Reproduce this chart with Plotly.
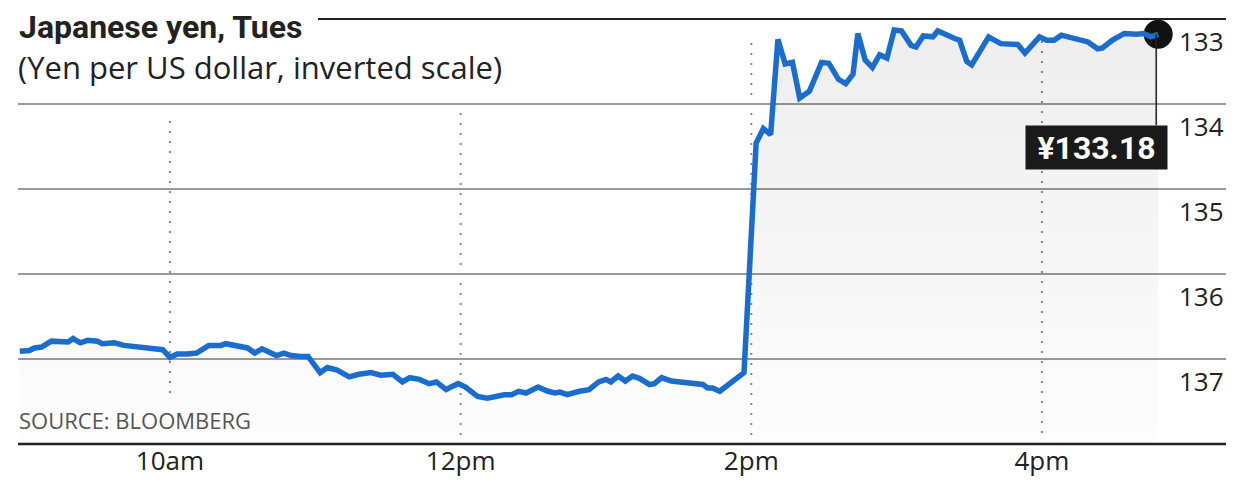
import plotly.graph_objects as go

DAY = "2024-01-02"

times = [
    "08:58", "09:02", "09:04", "09:07", "09:11", "09:15", "09:18", "09:20", "09:23", "09:26",
    "09:30", "09:32", "09:37", "09:41", "09:45", "09:48", "09:54", "09:57", "10:00", "10:03",
    "10:07", "10:11", "10:16", "10:21", "10:23", "10:27", "10:30",
    "10:32", "10:35", "10:38", "10:41", "10:44", "10:47", "10:50", "10:54", "10:57", "11:02",
    "11:05", "11:09", "11:14", "11:18", "11:23", "11:27", "11:29", "11:32", "11:36", "11:39",
    "11:43", "11:47", "11:50", "11:54", "11:56", "11:59", "12:02", "12:07", "12:11",
    "12:14", "12:18", "12:21", "12:24", "12:27", "12:32", "12:36", "12:39", "12:41", "12:44",
    "12:49", "12:53", "12:57", "13:00", "13:02", "13:05", "13:08", "13:11", "13:14", "13:18",
    "13:20", "13:23", "13:27", "13:31", "13:34", "13:37", "13:40", "13:42", "13:44", "13:47",
    "13:50", "13:57",
    "14:02", "14:05", "14:08", "14:11", "14:14", "14:17", "14:20", "14:24", "14:29", "14:32",
    "14:36", "14:39", "14:42", "14:44", "14:47", "14:50", "14:53", "14:56", "14:59", "15:02",
    "15:06", "15:08", "15:11", "15:15", "15:17", "15:21", "15:24", "15:26", "15:29", "15:31",
    "15:38", "15:43", "15:50", "15:53", "15:59", "16:02", "16:05", "16:08", "16:14", "16:17",
    "16:19", "16:23", "16:25", "16:29", "16:34", "16:39", "16:42", "16:45", "16:48",
]

yen_per_usd = [
    136.91, 136.90, 136.87, 136.86, 136.79, 136.79, 136.80, 136.76, 136.81, 136.78,
    136.79, 136.82, 136.81, 136.84, 136.85, 136.87, 136.87, 136.89, 136.98, 136.94,
    136.94, 136.93, 136.84, 136.84, 136.82, 136.84, 136.87,
    136.87, 136.93, 136.88, 136.92, 136.96, 136.93, 136.96, 136.97, 136.97, 137.16,
    137.10, 137.13, 137.21, 137.18, 137.16, 137.19, 137.19, 137.18, 137.27, 137.22,
    137.24, 137.29, 137.27, 137.36, 137.33, 137.29, 137.33, 137.44, 137.46,
    137.44, 137.42, 137.42, 137.38, 137.40, 137.33, 137.38, 137.40, 137.39, 137.42,
    137.38, 137.36, 137.27, 137.24, 137.27, 137.20, 137.26, 137.20, 137.23, 137.30,
    137.29, 137.22, 137.26, 137.27, 137.27, 137.29, 137.30, 137.34, 137.34, 137.38,
    137.31, 137.16,
    134.46, 134.29, 134.36, 133.24, 133.53, 133.51, 133.93, 133.85, 133.51, 133.52,
    133.71, 133.76, 133.65, 133.17, 133.48, 133.57, 133.42, 133.46, 133.13, 133.14,
    133.31, 133.33, 133.20, 133.21, 133.14, 133.20, 133.23, 133.25, 133.50, 133.54,
    133.21, 133.29, 133.30, 133.40, 133.21, 133.25, 133.25, 133.19, 133.24, 133.27,
    133.27, 133.35, 133.34, 133.25, 133.17, 133.18, 133.17, 133.21, 133.18,
]

x_tick_times = ["10:00", "12:00", "14:00", "16:00"]
x_tick_labels = ["10am", "12pm", "2pm", "4pm"]
y_ticks = [133, 134, 135, 136, 137]
y_bottom = 138
x_start, x_end = "08:57:15", "17:16:00"

title = "Japanese yen, Tues"
subtitle = "(Yen per US dollar, inverted scale)"
source = "SOURCE: BLOOMBERG"

BLUE = "#1a6dcc"
INK = "#222222"
BODY = "Open Sans"
HEAD = "Roboto"

x = [f"{DAY} {t}" for t in times]

fig = go.Figure()

# baseline for the area fill
fig.add_trace(go.Scatter(x=[x[0], x[-1]], y=[y_bottom, y_bottom], mode="lines",
                         line=dict(width=0), hoverinfo="skip", showlegend=False))
# gradient area under the line
fig.add_trace(go.Scatter(x=x, y=yen_per_usd, mode="lines", line=dict(width=0),
                         fill="tonexty",
                         fillgradient=dict(type="vertical",
                                           colorscale=[[0, "rgba(0,0,0,0.07)"],
                                                       [1, "rgba(0,0,0,0.008)"]],
                                           start=y_ticks[0], stop=y_bottom),
                         hoverinfo="skip", showlegend=False))
# end point marker
fig.add_trace(go.Scatter(x=[x[-1]], y=[yen_per_usd[-1]], mode="markers",
                         marker=dict(size=29, color="#111111"),
                         hoverinfo="skip", showlegend=False))
# main line
fig.add_trace(go.Scatter(x=x, y=yen_per_usd, mode="lines",
                         line=dict(color=BLUE, width=5.5),
                         showlegend=False))

shapes = []
# top rule (at 133, top of plot) and bottom axis rule, unclipped paper lines
shapes.append(dict(type="line", xref="paper", yref="paper", x0=0.2483, x1=1,
                   y0=1, y1=1, line=dict(color=INK, width=2)))
shapes.append(dict(type="line", xref="paper", yref="paper", x0=0, x1=1,
                   y0=0, y1=0, line=dict(color=INK, width=2.5)))
# dotted time lines
dot_extent = {"10:00": (0.12, 0.7765), "12:00": (0.0212, 0.8188),
              "14:00": (0.0212, 0.9624), "16:00": (0.0259, 0.967)}
for t in x_tick_times:
    y0, y1 = dot_extent[t]
    shapes.append(dict(type="line", xref="x", yref="paper",
                       x0=f"{DAY} {t}", x1=f"{DAY} {t}", y0=y0, y1=y1,
                       line=dict(color="#8a8a8a", width=2, dash="2px,8px"),
                       layer="below"))
# callout line from last point down to the value box
shapes.append(dict(type="line", xref="x", yref="y", ysizemode="pixel",
                   xsizemode="pixel", xanchor=x[-1], yanchor=yen_per_usd[-1],
                   x0=-2, x1=-2, y0=0, y1=-91, line=dict(color=INK, width=1.5)))

annotations = []
annotations.append(dict(text=f"<b>{title}</b>", xref="paper", yref="paper", x=0, y=1,
                        xanchor="left", yanchor="top", xshift=0, yshift=12,
                        borderpad=0, showarrow=False,
                        font=dict(family=HEAD, size=32, color=INK)))
annotations.append(dict(text=subtitle, xref="paper", yref="paper", x=0, y=1,
                        xanchor="left", yanchor="top", xshift=-1, yshift=-26,
                        borderpad=0, showarrow=False,
                        font=dict(family=BODY, size=31, color=INK)))
annotations.append(dict(text=source, xref="paper", yref="paper", x=0, y=0.097,
                        xanchor="left", yanchor="top", xshift=-1,
                        showarrow=False,
                        font=dict(family=BODY, size=22, color="#555555")))
for v in y_ticks:
    annotations.append(dict(text=str(v), xref="paper", yref="y", x=1, y=v,
                            xanchor="right", yanchor="middle", yshift=-22,
                            showarrow=False,
                            font=dict(family=BODY, size=26, color=INK)))
annotations.append(dict(text=f"¥{yen_per_usd[-1]:.2f}", xref="x", yref="y",
                        x=x[-1], y=yen_per_usd[-1], xanchor="right", yanchor="top",
                        xshift=10, yshift=-91, showarrow=False,
                        bgcolor="#1a1a1a", borderpad=4, width=133, height=35,
                        align="center", valign="middle",
                        font=dict(family=HEAD, size=32, color="white", weight=700)))

fig.update_layout(
    width=1240, height=486, autosize=False,
    margin=dict(l=18, r=14, t=19, b=42, autoexpand=False),
    paper_bgcolor="white", plot_bgcolor="white",
    showlegend=False,
    shapes=shapes, annotations=annotations,
    xaxis=dict(type="date", range=[f"{DAY} {x_start}", f"{DAY} {x_end}"],
               tickvals=[f"{DAY} {t}" for t in x_tick_times], ticktext=x_tick_labels,
               showgrid=False, zeroline=False, showline=False,
               ticks="outside", ticklen=5, tickcolor="rgba(0,0,0,0)",
               ticklabelstandoff=-11, automargin=False,
               tickfont=dict(family=BODY, size=26, color=INK)),
    yaxis=dict(range=[y_bottom, y_ticks[0]], tickvals=y_ticks[1:],
               showgrid=True, gridcolor="#9a9a9a", gridwidth=1.5, automargin=False,
               showticklabels=False, zeroline=False, showline=False),
)

post = ("document.body.style.margin='0';document.body.style.padding='0';"
        "document.body.style.overflow='hidden';"
        "var gd=document.getElementById('{plot_id}');"
        "Plotly.relayout(gd,{width:1240,height:486});")

fig.write_html("out.html", config={"responsive": False, "displayModeBar": False},
               post_script=post)
